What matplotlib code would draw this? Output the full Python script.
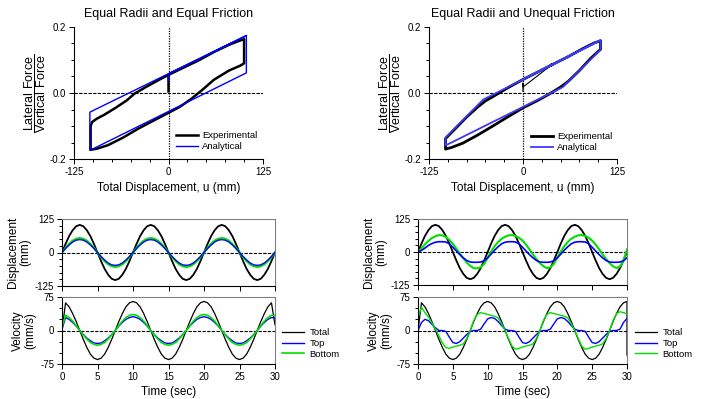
import numpy as np
import matplotlib
matplotlib.use('Agg')
import matplotlib.pyplot as plt
from matplotlib.ticker import MultipleLocator

plt.rcParams['font.family'] = ['Liberation Sans', 'DejaVu Sans']
plt.rcParams['mathtext.fontset'] = 'custom'
plt.rcParams['mathtext.rm'] = 'Liberation Sans'
plt.rcParams['axes.linewidth'] = 0.8
plt.rcParams['axes.unicode_minus'] = False

# ---- hysteresis loops (u in mm, force ratio) ----
# equal friction
loopL_exp_u = [0, 0, 20, 40, 60, 80, 90, 97, 100, 100, 95, 80, 60, 45, 30, 15, 0, -20, -40, -60, -80, -95, -103,
               -103, -101, -95, -85, -70, -55, -45, -30, -15, 0]
loopL_exp_f = [0.005, 0.055, 0.077, 0.099, 0.124, 0.146, 0.155, 0.161, 0.163, 0.090, 0.083, 0.068, 0.040, 0.010,
               -0.018, -0.042, -0.060, -0.084, -0.108, -0.135, -0.158, -0.169, -0.172,
               -0.100, -0.088, -0.078, -0.066, -0.045, -0.022, -0.002, 0.018, 0.037, 0.055]
loopL_ana_u = [0, 0, 103, 103, -104, -104, 103]
loopL_ana_f = [0.035, 0.058, 0.174, 0.061, -0.174, -0.058, 0.174]

# unequal friction
loopR_start_u = [0, 0, 0, 38]
loopR_start_f = [0.005, 0.030, 0.018, 0.085]
loopR_exp_u = [38, 60, 80, 95, 103, 103, 90, 75, 60, 50, 35, 20, 0, -20, -40, -60, -80, -95, -103,
               -103, -90, -75, -60, -50, -40, -20, 0, 20, 38]
loopR_exp_f = [0.085, 0.110, 0.135, 0.152, 0.158, 0.132, 0.105, 0.068, 0.035, 0.018, -0.003, -0.022, -0.045,
               -0.072, -0.100, -0.127, -0.152, -0.165, -0.170,
               -0.138, -0.108, -0.073, -0.042, -0.024, -0.011, 0.016, 0.041, 0.064, 0.085]
loopR_ana_u = [0, 103, 103, 53, -103, -103, -53, 103]
loopR_ana_f = [0.041, 0.160, 0.131, 0.018, -0.159, -0.135, -0.020, 0.160]

# ---- time histories, sampled every 0.5 s from 0 to 30 s ----
t = np.arange(0, 30.01, 0.5)

dispL_total = [0, 32, 61, 83, 98, 103, 98, 83, 61, 32, 0, -32, -61, -83, -98, -103, -98, -83, -61, -32,
               0, 32, 61, 83, 98, 103, 98, 83, 61, 32, 0, -32, -61, -83, -98, -103, -98, -83, -61, -32,
               0, 32, 61, 83, 98, 103, 98, 83, 61, 32, 0, -32, -61, -83, -98, -103, -98, -83, -61, -32, 0]
dispL_top = [0, 15, 28, 39, 46, 48, 46, 39, 28, 15, 0, -15, -28, -39, -46, -48, -46, -39, -28, -15,
             0, 15, 28, 39, 46, 48, 46, 39, 28, 15, 0, -15, -28, -39, -46, -48, -46, -39, -28, -15,
             0, 15, 28, 39, 46, 48, 46, 39, 28, 15, 0, -15, -28, -39, -46, -48, -46, -39, -28, -15, 0]
dispL_bot = [0, 17, 32, 44, 51, 54, 51, 44, 32, 17, 0, -17, -32, -44, -51, -54, -51, -44, -32, -17,
             0, 17, 32, 44, 51, 54, 51, 44, 32, 17, 0, -17, -32, -44, -51, -54, -51, -44, -32, -17,
             0, 17, 32, 44, 51, 54, 51, 44, 32, 17, 0, -17, -32, -44, -51, -54, -51, -44, -32, -17, 0]

velL_total = [0, 62, 53, 38, 20, 0, -20, -38, -53, -62, -65, -62, -53, -38, -20, 0, 20, 38, 53, 62,
              65, 62, 53, 38, 20, 0, -20, -38, -53, -62, -65, -62, -53, -38, -20, 0, 20, 38, 53, 62,
              65, 62, 53, 38, 20, 0, -20, -38, -53, -62, -65, -62, -53, -38, -20, 0, 20, 38, 53, 62, 13]
velL_top = [3, 29, 25, 18, 10, 0, -9, -17, -23, -28, -29, -28, -23, -17, -9, 0, 10, 18, 25, 29,
            31, 29, 25, 18, 10, 0, -9, -17, -23, -28, -29, -28, -23, -17, -9, 0, 10, 18, 25, 29,
            31, 29, 25, 18, 10, 0, -9, -17, -23, -28, -29, -28, -23, -17, -9, 0, 10, 18, 25, 29, 28]
velL_bot = [8, 34, 29, 21, 11, 0, -10, -19, -27, -31, -33, -31, -27, -19, -10, 0, 11, 21, 29, 34,
            36, 34, 29, 21, 11, 0, -10, -19, -27, -31, -33, -31, -27, -19, -10, 0, 11, 21, 29, 34,
            36, 34, 29, 21, 11, 0, -10, -19, -27, -31, -33, -31, -27, -19, -10, 0, 11, 21, 29, 34, 34]

dispR_total = dispL_total
dispR_top = [0, 6, 15, 25, 32, 37, 39, 39, 38, 31, 18, 4, -10, -22, -32, -38, -39, -39, -38, -33,
             -22, -8, 7, 20, 31, 37, 39, 39, 38, 31, 18, 4, -10, -22, -32, -38, -39, -39, -38, -33,
             -22, -8, 7, 20, 31, 37, 39, 39, 38, 31, 18, 4, -10, -22, -32, -38, -39, -39, -38, -33, -22]
dispR_bot = [0, 14, 29, 42, 53, 60, 64, 63, 57, 46, 31, 13, -6, -24, -40, -53, -61, -62, -58, -45,
             -22, 2, 22, 38, 50, 58, 63, 64, 61, 54, 43, 28, 10, -9, -27, -42, -54, -61, -58, -45,
             -22, 2, 22, 38, 50, 58, 63, 64, 61, 54, 43, 28, 10, -9, -27, -42, -54, -61, -55, -32, 10]

t_end = list(t) + [30.0]
velR_total = [0, 62, 53, 38, 20, 0, -20, -38, -53, -62, -65, -62, -53, -38, -20, 0, 20, 38, 53, 62,
              65, 62, 53, 38, 20, 0, -20, -38, -53, -62, -65, -62, -53, -38, -20, 0, 20, 38, 53, 62,
              65, 62, 53, 38, 20, 0, -20, -38, -53, -62, -65, -62, -53, -38, -20, 0, 20, 38, 53, 62, 65, -55]
velR_top = [0, 18, 25, 22, 14, 6, 0, 0, -2, -15, -27, -29, -25, -17, -9, -2, 0, 0, 3, 15,
            26, 29, 27, 20, 11, 3, 0, 0, -2, -15, -27, -29, -25, -17, -9, -2, 0, 0, 3, 15,
            26, 29, 27, 20, 11, 3, 0, 0, -2, -15, -27, -29, -25, -17, -9, -2, 0, 0, 3, 18, 27]
velR_bot = [30, 52, 40, 30, 17, 3, -12, -28, -38, -40, -37, -35, -33, -30, -18, 0, 22, 36, 40, 38,
            36, 34, 32, 28, 15, 0, -18, -35, -42, -40, -37, -35, -33, -30, -18, 0, 22, 36, 40, 38,
            36, 34, 32, 28, 15, 0, -18, -35, -42, -40, -37, -35, -33, -30, -18, 0, 22, 38, 42, 40, 37]

GREEN = '#00e000'
W, H = 701, 399


def box(x0, y0, x1, y1):
    # pixel box -> figure fraction rect
    return [x0 / W, 1 - y1 / H, (x1 - x0) / W, (y1 - y0) / H]


def style_loop(ax, title):
    ax.set_xlim(-125, 125)
    ax.set_ylim(-0.2, 0.2)
    ax.set_xticks([-125, 0, 125])
    ax.set_yticks([-0.2, 0, 0.2])
    ax.set_yticklabels(['-0.2', '0.0', '0.2'])
    ax.xaxis.set_minor_locator(MultipleLocator(25))
    ax.yaxis.set_minor_locator(MultipleLocator(0.05))
    for s in ['top', 'right']:
        ax.spines[s].set_visible(False)
    ax.tick_params(which='both', direction='out', labelsize=7, width=0.7, pad=2)
    ax.tick_params(which='major', length=3.5)
    ax.tick_params(which='minor', length=2)
    ax.axhline(0, color='k', ls=(0, (3, 1.2)), lw=0.8, zorder=1)
    ax.axvline(0, color='k', ls=(0, (1, 1)), lw=0.9, zorder=1)
    ax.set_title(title, fontsize=9, pad=7)
    ax.set_xlabel('Total Displacement, u (mm)', fontsize=8.5, labelpad=4)
    ax.set_ylabel(r'$\dfrac{\mathrm{Lateral\ Force}}{\mathrm{Vertical\ Force}}$', fontsize=9, labelpad=1)


def style_time(ax, lim, label, show_x):
    ax.set_xlim(0, 30)
    ax.set_ylim(-lim, lim)
    ax.set_xticks(range(0, 31, 5))
    ax.set_yticks([-lim, 0, lim])
    ax.yaxis.set_minor_locator(MultipleLocator(25))
    for s in ['top', 'right']:
        ax.spines[s].set_color('#808080')
    ax.tick_params(which='both', direction='out', labelsize=7, width=0.7, pad=2)
    ax.tick_params(which='major', length=3.5)
    ax.tick_params(which='minor', length=2)
    ax.tick_params(axis='x', top=False)
    if not show_x:
        ax.set_xticklabels([])
    ax.axhline(0, color='k', ls=(0, (3, 1.2)), lw=0.8, zorder=1)
    ax.set_ylabel(label, fontsize=8.5, linespacing=1.0, labelpad=3)


fig = plt.figure(figsize=(7.01, 3.99), dpi=100)

# top-left loop
ax1 = fig.add_axes(box(74, 27, 263, 159))
style_loop(ax1, 'Equal Radii and Equal Friction')
ax1.plot(loopL_exp_u, loopL_exp_f, color='black', lw=1.8, label='Experimental', zorder=3)
ax1.plot(loopL_ana_u, loopL_ana_f, color='#0000ff', lw=1.0, label='Analytical', zorder=4)
ax1.legend(loc='upper left', bbox_to_anchor=(176 / W, 1 - 131 / H), bbox_transform=fig.transFigure,
           frameon=False, fontsize=6.8, handlelength=2.3, handletextpad=0.5, labelspacing=0.25,
           borderpad=0, borderaxespad=0)

# top-right loop
ax2 = fig.add_axes(box(429, 27, 617, 159))
style_loop(ax2, 'Equal Radii and Unequal Friction')
ax2.plot(loopR_start_u, loopR_start_f, color='black', lw=0.8, zorder=3)
ax2.plot(loopR_exp_u, loopR_exp_f, color='black', lw=2.0, label='Experimental', zorder=3)
ax2.plot(loopR_ana_u, loopR_ana_f, color='#3a3aff', lw=1.3, label='Analytical', zorder=4)
ax2.legend(loc='upper left', bbox_to_anchor=(531 / W, 1 - 132 / H), bbox_transform=fig.transFigure,
           frameon=False, fontsize=6.8, handlelength=2.3, handletextpad=0.5, labelspacing=0.25,
           borderpad=0, borderaxespad=0)

# bottom-left time histories
ax3 = fig.add_axes(box(62, 219, 275, 286))
style_time(ax3, 125, 'Displacement\n(mm)', False)
ax3.plot(t, dispL_total, color='black', lw=1.3)
ax3.plot(t, dispL_bot, color=GREEN, lw=1.6)
ax3.plot(t, dispL_top, color='#0000ff', lw=1.0)

ax4 = fig.add_axes(box(62, 297, 275, 364))
style_time(ax4, 75, 'Velocity\n(mm/s)', True)
ax4.plot(t, velL_total, color='black', lw=0.9, label='Total')
ax4.plot(t, velL_top, color='#0000ff', lw=1.0, label='Top')
ax4.plot(t, velL_bot, color=GREEN, lw=1.2, label='Bottom')
ax4.set_xlabel('Time (sec)', fontsize=8.5, labelpad=3)
ax4.legend(loc='upper left', bbox_to_anchor=(282 / W, 1 - 328 / H), bbox_transform=fig.transFigure,
           frameon=False, fontsize=6.8, handlelength=2.3, handletextpad=0.6, labelspacing=0.2,
           borderpad=0, borderaxespad=0)

# bottom-right time histories
ax5 = fig.add_axes(box(418, 219, 627, 285))
style_time(ax5, 125, 'Displacement\n(mm)', False)
ax5.plot(t, dispR_total, color='black', lw=1.3)
ax5.plot(t, dispR_bot, color=GREEN, lw=1.5)
ax5.plot(t, dispR_top, color='#0000ff', lw=1.2)

ax6 = fig.add_axes(box(418, 297, 627, 364))
style_time(ax6, 75, 'Velocity\n(mm/s)', True)
ax6.plot(t_end, velR_total, color='black', lw=0.9, label='Total')
ax6.plot(t, velR_top, color='#0000ff', lw=1.0, label='Top')
ax6.plot(t, velR_bot, color=GREEN, lw=1.0, label='Bottom')
ax6.set_xlabel('Time (sec)', fontsize=8.5, labelpad=3)
ax6.legend(loc='upper left', bbox_to_anchor=(635 / W, 1 - 328 / H), bbox_transform=fig.transFigure,
           frameon=False, fontsize=6.8, handlelength=2.3, handletextpad=0.6, labelspacing=0.2,
           borderpad=0, borderaxespad=0)

fig.savefig('out.png', dpi=100)
